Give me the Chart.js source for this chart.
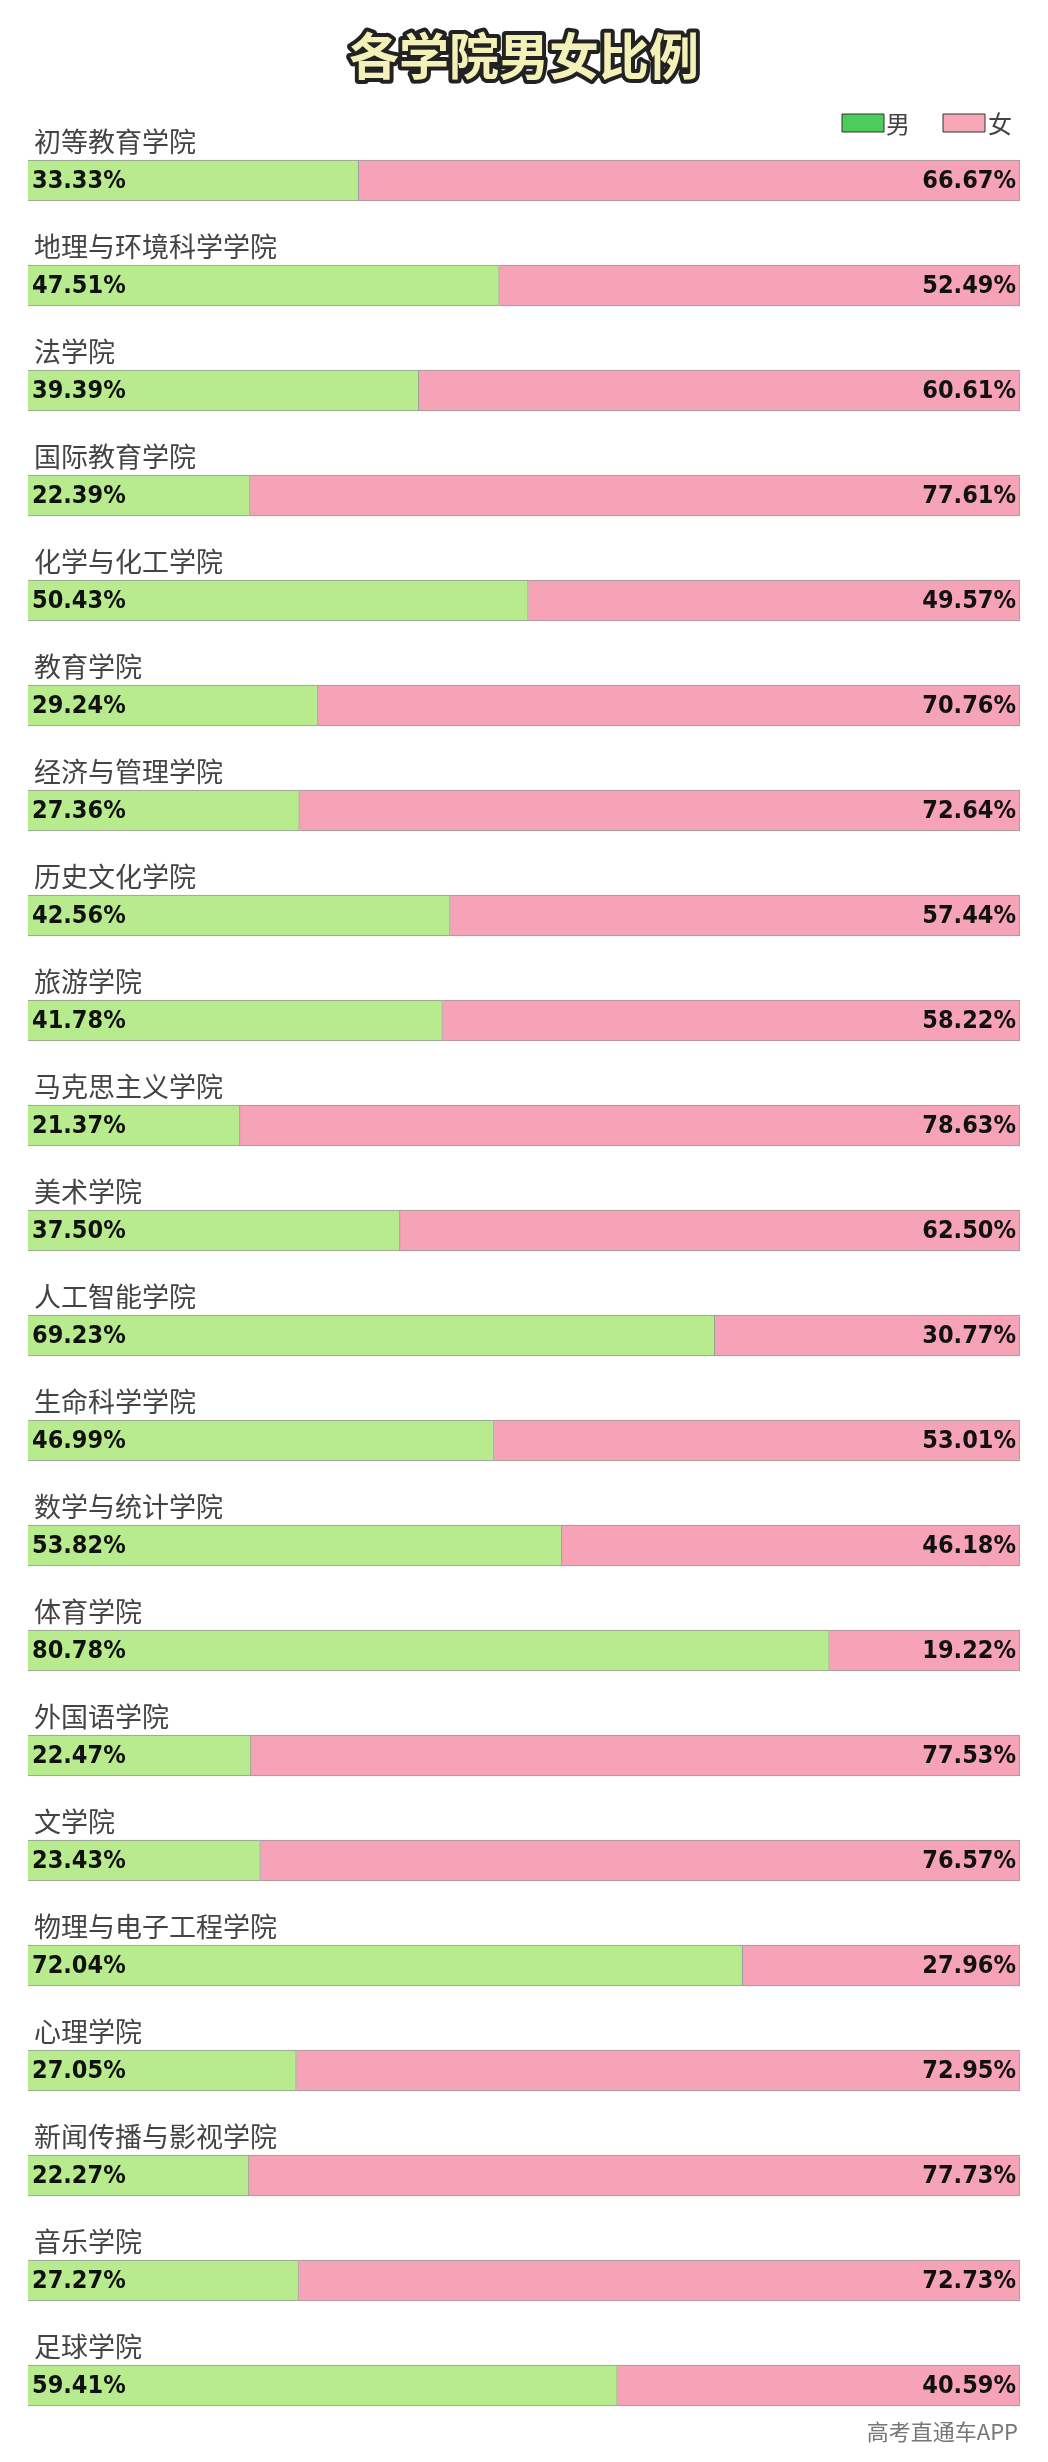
<!DOCTYPE html>
<html>
<head>
<meta charset="utf-8">
<script src="https://cdn.jsdelivr.net/npm/chart.js@4"></script>
<style>
  body { margin: 0; background: #fff; }
  #wrap { width: 1048px; height: 2462px; position: relative; }
</style>
</head>
<body>
<div id="wrap"><canvas id="chartArea"></canvas></div>
<script>
var colleges = ['初等教育学院', '地理与环境科学学院', '法学院', '国际教育学院', '化学与化工学院', '教育学院',
    '经济与管理学院', '历史文化学院', '旅游学院', '马克思主义学院', '美术学院', '人工智能学院',
    '生命科学学院', '数学与统计学院', '体育学院', '外国语学院', '文学院', '物理与电子工程学院',
    '心理学院', '新闻传播与影视学院', '音乐学院', '足球学院'];
var male = [33.33, 47.51, 39.39, 22.39, 50.43, 29.24, 27.36, 42.56, 41.78, 21.37, 37.50, 69.23,
    46.99, 53.82, 80.78, 22.47, 23.43, 72.04, 27.05, 22.27, 27.27, 59.41];
var female = [66.67, 52.49, 60.61, 77.61, 49.57, 70.76, 72.64, 57.44, 58.22, 78.63, 62.50, 30.77,
    53.01, 46.18, 19.22, 77.53, 76.57, 27.96, 72.95, 77.73, 72.73, 40.59];

var cjk = '"Noto Sans CJK SC", sans-serif';

// draws title, legend, college names, percentages and watermark
var decor = {
    id: 'decor',
    afterDatasetsDraw: function(chart) {
        var ctx = chart.ctx;
        var area = chart.chartArea;
        ctx.save();
        // title
        ctx.font = 'bold 50px ' + cjk;
        ctx.textAlign = 'center';
        ctx.textBaseline = 'middle';
        ctx.lineJoin = 'round';
        ctx.lineWidth = 8;
        ctx.strokeStyle = '#222';
        ctx.strokeText('各学院男女比例', 524, 56);
        ctx.fillStyle = '#f4f1b8';
        ctx.fillText('各学院男女比例', 524, 56);
        // legend
        ctx.font = '24px ' + cjk;
        ctx.textAlign = 'left';
        ctx.fillStyle = '#4ccc5a';
        ctx.fillRect(842, 114, 42, 18);
        ctx.strokeStyle = '#333'; ctx.lineWidth = 1;
        ctx.strokeRect(842, 114, 42, 18);
        ctx.fillStyle = '#444';
        ctx.fillText('男', 886, 124);
        ctx.fillStyle = '#f7a8b8';
        ctx.fillRect(943, 114, 42, 18);
        ctx.strokeRect(943, 114, 42, 18);
        ctx.fillStyle = '#444';
        ctx.fillText('女', 988, 124);

        var meta0 = chart.getDatasetMeta(0);
        meta0.data.forEach(function(bar, i) {
            var top = bar.y - bar.height / 2;
            ctx.font = '27px ' + cjk;
            ctx.fillStyle = '#444';
            ctx.textAlign = 'left';
            ctx.textBaseline = 'alphabetic';
            ctx.fillText(colleges[i], 34, top - 8);
            ctx.font = 'bold 25px "DejaVu Sans Condensed", "DejaVu Sans", sans-serif';
            ctx.fillStyle = '#111';
            ctx.textBaseline = 'middle';
            ctx.fillText(male[i].toFixed(2) + '%', area.left + 4, bar.y + 1);
            ctx.textAlign = 'right';
            ctx.fillText(female[i].toFixed(2) + '%', area.right - 4, bar.y + 1);
        });
        // watermark
        ctx.font = '22px ' + cjk;
        ctx.fillStyle = '#777';
        ctx.textAlign = 'right';
        ctx.textBaseline = 'middle';
        ctx.fillText('高考直通车APP', 1018, 2432);
        ctx.restore();
    }
};

var ctx = document.getElementById('chartArea').getContext('2d');
var myChart = new Chart(ctx, {
    type: 'bar',
    data: {
        labels: colleges,
        datasets: [{
            label: '男',
            data: male,
            backgroundColor: '#b8eb8e',
            borderColor: '#999',
            borderWidth: 1,
            barThickness: 41
        }, {
            label: '女',
            data: female,
            backgroundColor: '#f7a3b7',
            borderColor: '#999',
            borderWidth: 1,
            barThickness: 41
        }]
    },
    options: {
        indexAxis: 'y',
        responsive: true,
        maintainAspectRatio: false,
        animation: false,
        layout: { padding: { top: 128, bottom: 24, left: 28, right: 28 } },
        plugins: { legend: { display: false }, tooltip: { enabled: false } },
        scales: {
            x: { stacked: true, min: 0, max: 100, display: false },
            y: { stacked: true, display: false, offset: true }
        }
    },
    plugins: [decor]
});
</script>
</body>
</html>
